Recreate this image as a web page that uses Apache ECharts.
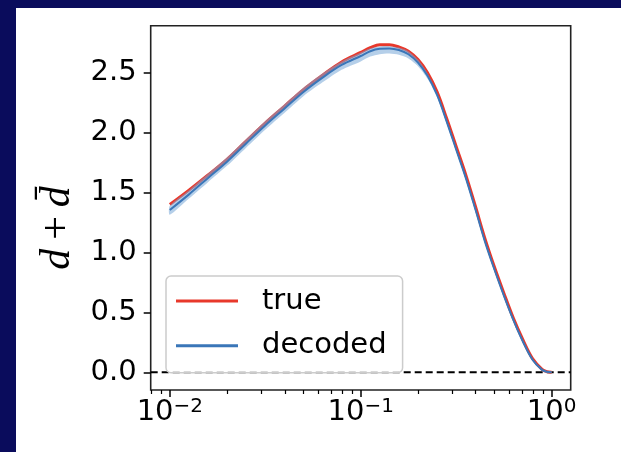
<!DOCTYPE html>
<html><head><meta charset="utf-8">
<script src="https://cdn.jsdelivr.net/npm/echarts@6/dist/echarts.min.js"></script>
<style>html,body{margin:0;padding:0;background:#0a0c5c;} #c{width:621px;height:452px;}</style>
</head><body><div id="c"></div>
<script>
// ---- data ----
const xValues = [0.01, 0.0126, 0.0158, 0.02, 0.0251, 0.0316, 0.0398, 0.0501, 0.0631, 0.0794,
  0.1, 0.1122, 0.1259, 0.1413, 0.1585, 0.1778, 0.1995, 0.2239, 0.2512, 0.2818,
  0.3162, 0.3548, 0.3981, 0.4467, 0.5012, 0.5623, 0.631, 0.7079, 0.7943, 0.8913, 0.944, 1.0];
const trueValues = [1.40, 1.52, 1.645, 1.78, 1.93, 2.08, 2.22, 2.36, 2.48, 2.59,
  2.67, 2.71, 2.735, 2.735, 2.715, 2.68, 2.61, 2.50, 2.34, 2.12,
  1.885, 1.65, 1.39, 1.12, 0.88, 0.66, 0.45, 0.27, 0.115, 0.025, 0.005, 0.0];
const decodedValues = [1.355, 1.485, 1.62, 1.76, 1.91, 2.06, 2.20, 2.34, 2.46, 2.565,
  2.64, 2.68, 2.70, 2.703, 2.69, 2.655, 2.585, 2.475, 2.315, 2.095,
  1.86, 1.625, 1.365, 1.095, 0.86, 0.64, 0.435, 0.255, 0.105, 0.02, 0.004, 0.0];
const decodedLow = [1.315, 1.45, 1.585, 1.725, 1.875, 2.025, 2.165, 2.305, 2.42, 2.525,
  2.595, 2.635, 2.655, 2.66, 2.65, 2.62, 2.555, 2.45, 2.295, 2.08,
  1.845, 1.61, 1.355, 1.085, 0.85, 0.63, 0.425, 0.245, 0.097, 0.012, -0.002, -0.004];
const decodedHigh = [1.39, 1.52, 1.655, 1.795, 1.945, 2.095, 2.235, 2.375, 2.495, 2.595,
  2.67, 2.705, 2.72, 2.722, 2.71, 2.68, 2.61, 2.495, 2.33, 2.11,
  1.875, 1.64, 1.375, 1.105, 0.87, 0.65, 0.445, 0.265, 0.113, 0.028, 0.01, 0.004];
const seriesNames = ['true', 'decoded'];
const xMajorTicks = [0.01, 0.1, 1];
const xTickExponents = ['\u22122', '\u22121', '0'];
const xMinorTicks = [0.008, 0.009, 0.02, 0.03, 0.04, 0.05, 0.06, 0.07, 0.08, 0.09,
  0.2, 0.3, 0.4, 0.5, 0.6, 0.7, 0.8, 0.9];
const yTicks = [0, 0.5, 1.0, 1.5, 2.0, 2.5];
const yTickLabels = ['0.0', '0.5', '1.0', '1.5', '2.0', '2.5'];
const xRange = [0.00794, 1.2589];
const yRange = [-0.148, 2.893];
const zeroLineY = 0;

// ---- chart ----
const lg = v => Math.log10(v);
const pts = arr => xValues.map((x, i) => [lg(x), arr[i]]);
const majorLog = xMajorTicks.map(lg);

const chart = echarts.init(document.getElementById('c'), null, {renderer: 'canvas'});
const fontFam = 'DejaVu Sans';
chart.setOption({
  backgroundColor: '#0a0c5c',
  animation: false,
  graphic: [
    {type: 'rect', z: -10, shape: {x: 16, y: 8, width: 605, height: 444}, style: {fill: '#ffffff'}},
    {type: 'text', x: 58, y: 228, rotation: Math.PI / 2,
      style: {text: '{i|d}{p|+}{i|d\u0304}', align: 'center', verticalAlign: 'middle',
        rich: {i: {font: 'italic 42px "Liberation Serif"', fill: '#000'},
               p: {font: '42px "Liberation Serif"', fill: '#000', padding: [0, 9, 0, 9]}}}}
  ],
  grid: {left: 150.7, top: 25.7, right: 50.3, bottom: 62, show: true,
    borderColor: '#222', borderWidth: 1.6, backgroundColor: 'transparent'},
  legend: {
    data: seriesNames, orient: 'vertical', left: 166, top: 276,
    padding: [10, 16, 12, 10], itemGap: 14.7, itemWidth: 62, itemHeight: 3, icon: 'rect',
    backgroundColor: 'rgba(255,255,255,0.8)', borderColor: '#cccccc', borderWidth: 1.5, borderRadius: 5,
    textStyle: {fontSize: 29, fontFamily: fontFam, color: '#000', lineHeight: 30, padding: [0, 0, 0, 19]}
  },
  xAxis: [
    {type: 'value', min: lg(xRange[0]), max: lg(xRange[1]), position: 'bottom',
      splitLine: {show: false}, axisLine: {show: false, onZero: false},
      axisTick: {show: true, customValues: majorLog, length: 7, lineStyle: {color: '#000', width: 1.5}},
      axisLabel: {show: true, customValues: majorLog, margin: 7,
        formatter: v => {
          const i = majorLog.findIndex(m => Math.abs(m - v) < 1e-6);
          return '{b|10}{s|' + (i >= 0 ? xTickExponents[i] : '') + '}';
        },
        rich: {b: {fontSize: 29, fontFamily: fontFam, color: '#000', lineHeight: 30, verticalAlign: 'bottom'},
               s: {fontSize: 20, fontFamily: fontFam, color: '#000', lineHeight: 18, verticalAlign: 'top'}}}},
    {type: 'value', min: lg(xRange[0]), max: lg(xRange[1]), position: 'bottom',
      splitLine: {show: false}, axisLine: {show: false, onZero: false}, axisLabel: {show: false},
      axisTick: {show: true, customValues: xMinorTicks.map(lg), length: 4, lineStyle: {color: '#000', width: 1.2}}}
  ],
  yAxis: {type: 'value', min: yRange[0], max: yRange[1],
    splitLine: {show: false}, axisLine: {show: false, onZero: false},
    axisTick: {show: true, customValues: yTicks, length: 7, lineStyle: {color: '#000', width: 1.5}},
    axisLabel: {customValues: yTicks, margin: 14, fontSize: 29, fontFamily: fontFam, color: '#000',
      formatter: v => { const i = yTicks.findIndex(t => Math.abs(t - v) < 1e-6); return i >= 0 ? yTickLabels[i] : ''; }}},
  series: [
    {name: 'zero', type: 'line', silent: true, symbol: 'none', z: 1,
      data: [[lg(xRange[0]), zeroLineY], [lg(xRange[1]), zeroLineY]],
      lineStyle: {color: '#000', width: 2.2, type: [7, 4]}},
    {name: seriesNames[0], type: 'line', symbol: 'none', smooth: 0.35, z: 2, color: '#e8382b',
      data: pts(trueValues), lineStyle: {color: '#e8382b', width: 3}},
    {name: 'band', type: 'custom', silent: true, z: 3, clip: true,
      data: [[lg(xValues[0]), decodedValues[0]]],
      renderItem: (params, api) => {
        const up = xValues.map((x, i) => api.coord([lg(x), decodedHigh[i]]));
        const lo = xValues.map((x, i) => api.coord([lg(x), decodedLow[i]])).reverse();
        return {type: 'polygon', shape: {points: up.concat(lo), smooth: 0.25},
          style: {fill: 'rgba(120,168,215,0.55)', stroke: null}};
      }},
    {name: seriesNames[1], type: 'line', symbol: 'none', smooth: 0.35, z: 4, color: '#3a76b8',
      data: pts(decodedValues), lineStyle: {color: '#3a76b8', width: 2}}
  ]
});
</script></body></html>
